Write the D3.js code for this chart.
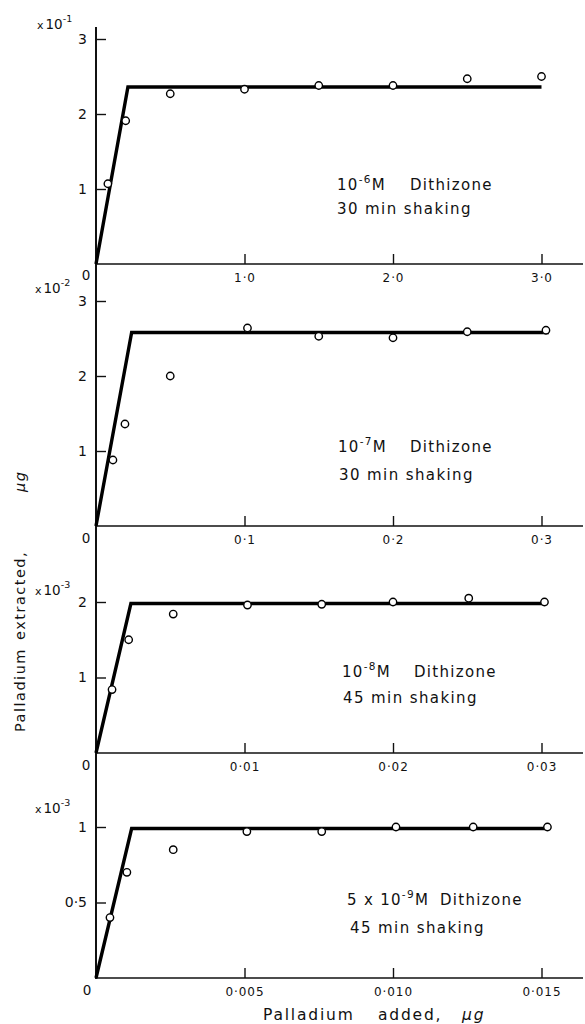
<!DOCTYPE html>
<html>
<head>
<meta charset="utf-8">
<script src="https://cdn.jsdelivr.net/npm/d3@7"></script>
<style>
  html, body { margin: 0; padding: 0; background: #fff; }
  svg { display: block; }
  text { font-family: "DejaVu Sans", sans-serif; fill: #111; }
</style>
</head>
<body>
<svg id="chart" width="585" height="1024"></svg>
<script>
// Palladium extracted vs. palladium added, four dithizone concentrations

// Panel 1: 10^-6 M dithizone, 30 min shaking (y in units of 10^-1 µg)
const added1 = [0.08, 0.2, 0.5, 1.0, 1.5, 2.0, 2.5, 3.0];
const extracted1 = [1.07, 1.91, 2.27, 2.33, 2.38, 2.38, 2.47, 2.5];
const fitX1 = [0, 0.215, 3.0];
const fitY1 = [0, 2.36, 2.36];
const xTicks1 = [1.0, 2.0, 3.0];
const xTickLabels1 = ["1·0", "2·0", "3·0"];
const yTicks1 = [1, 2, 3];
const yTickLabels1 = ["1", "2", "3"];

// Panel 2: 10^-7 M dithizone, 30 min shaking (y in units of 10^-2 µg)
const added2 = [0.0114, 0.0195, 0.05, 0.102, 0.15, 0.2, 0.25, 0.303];
const extracted2 = [0.88, 1.36, 2.0, 2.64, 2.53, 2.51, 2.59, 2.61];
const fitX2 = [0, 0.024, 0.305];
const fitY2 = [0, 2.58, 2.58];
const xTicks2 = [0.1, 0.2, 0.3];
const xTickLabels2 = ["0·1", "0·2", "0·3"];
const yTicks2 = [1, 2, 3];
const yTickLabels2 = ["1", "2", "3"];

// Panel 3: 10^-8 M dithizone, 45 min shaking (y in units of 10^-3 µg)
const added3 = [0.00108, 0.0022, 0.0052, 0.0102, 0.0152, 0.02, 0.0251, 0.0302];
const extracted3 = [0.84, 1.5, 1.84, 1.96, 1.97, 2.0, 2.05, 2.0];
const fitX3 = [0, 0.00235, 0.0304];
const fitY3 = [0, 1.98, 1.98];
const xTicks3 = [0.01, 0.02, 0.03];
const xTickLabels3 = ["0·01", "0·02", "0·03"];
const yTicks3 = [1, 2];
const yTickLabels3 = ["1", "2"];

// Panel 4: 5x10^-9 M dithizone, 45 min shaking (y in units of 10^-3 µg)
const added4 = [0.00047, 0.00104, 0.0026, 0.00508, 0.0076, 0.0101, 0.0127, 0.0152];
const extracted4 = [0.40, 0.70, 0.85, 0.97, 0.97, 1.0, 1.0, 1.0];
const fitX4 = [0, 0.0012, 0.0153];
const fitY4 = [0, 0.99, 0.99];
const xTicks4 = [0.005, 0.010, 0.015];
const xTickLabels4 = ["0·005", "0·010", "0·015"];
const yTicks4 = [0.5, 1];
const yTickLabels4 = ["0·5", "1"];

const exponents = ["-1", "-2", "-3", "-3"];
const conditionPrefix = ["", "", "", "5 x "];
const conditionExp = ["-6", "-7", "-8", "-9"];
const shakingLabels = ["30 min shaking", "30 min shaking", "45 min shaking", "45 min shaking"];

// Layout of the four stacked panels (pixel geometry only)
const xLeft = 96, xRight = 541.5, axisEnd = 583;
const layout = [
  { x: [0, 3.0],   y: [0, 3], y0: 264, yTop: 39,  exp: [37, 29],  note: [337, 190, 337, 214, 410], zero: [86, 280] },
  { x: [0, 0.3],   y: [0, 3], y0: 526, yTop: 301, exp: [35, 293], note: [338, 452, 339, 480, 410], zero: [86, 543] },
  { x: [0, 0.03],  y: [0, 2], y0: 753, yTop: 602, exp: [35, 595], note: [342, 677, 343, 703, 414], zero: [86, 770] },
  { x: [0, 0.015], y: [0, 1], y0: 978, yTop: 827, exp: [35, 813], note: [347, 905, 350, 933, 440], zero: [87, 995] }
];

const panels = [
  { added: added1, extracted: extracted1, fitX: fitX1, fitY: fitY1, xt: xTicks1, xl: xTickLabels1, yt: yTicks1, yl: yTickLabels1 },
  { added: added2, extracted: extracted2, fitX: fitX2, fitY: fitY2, xt: xTicks2, xl: xTickLabels2, yt: yTicks2, yl: yTickLabels2 },
  { added: added3, extracted: extracted3, fitX: fitX3, fitY: fitY3, xt: xTicks3, xl: xTickLabels3, yt: yTicks3, yl: yTickLabels3 },
  { added: added4, extracted: extracted4, fitX: fitX4, fitY: fitY4, xt: xTicks4, xl: xTickLabels4, yt: yTicks4, yl: yTickLabels4 }
];

const svg = d3.select("#chart");

// Shared vertical axis line running through all panels
svg.append("line")
  .attr("x1", xLeft).attr("x2", xLeft)
  .attr("y1", 27).attr("y2", 979)
  .attr("stroke", "#111").attr("stroke-width", 2);

panels.forEach((p, i) => {
  const L = layout[i];
  const x = d3.scaleLinear().domain(L.x).range([xLeft, xRight]);
  const y = d3.scaleLinear().domain(L.y).range([L.y0, L.yTop]);
  const g = svg.append("g");

  // x axis: baseline, ticks pointing up, labels below
  const xAxis = d3.axisBottom(x).tickValues(p.xt).tickSize(-10).tickPadding(7)
    .tickFormat((d, k) => p.xl[k]);
  const gx = g.append("g").attr("transform", `translate(0,${L.y0})`).call(xAxis);
  gx.select(".domain").remove();
  gx.selectAll(".tick line").attr("stroke", "#111").attr("stroke-width", 1.4);
  gx.selectAll(".tick text").attr("font-size", 12).attr("letter-spacing", 0.9)
    .attr("font-family", "DejaVu Sans").attr("fill", "#222").attr("dy", "0.9em");
  g.append("line")
    .attr("x1", xLeft).attr("x2", axisEnd)
    .attr("y1", L.y0).attr("y2", L.y0)
    .attr("stroke", "#111").attr("stroke-width", 1.6);

  // y axis ticks pointing right, labels to the left
  const yAxis = d3.axisLeft(y).tickValues(p.yt).tickSize(-10).tickPadding(9)
    .tickFormat((d, k) => p.yl[k]);
  const gy = g.append("g").attr("transform", `translate(${xLeft},0)`).call(yAxis);
  gy.select(".domain").remove();
  gy.selectAll(".tick line").attr("stroke", "#111").attr("stroke-width", 1.4);
  gy.selectAll(".tick text").attr("font-size", 14).attr("font-family", "DejaVu Sans").attr("fill", "#222");

  // "0" at the origin
  g.append("text").attr("x", L.zero[0]).attr("y", L.zero[1])
    .attr("text-anchor", "middle").attr("font-size", 13.5).text("0");

  // scale multiplier "x 10^n"
  const ex = g.append("text").attr("x", L.exp[0]).attr("y", L.exp[1]).attr("font-size", 13.5);
  ex.append("tspan").attr("font-size", 11).text("x");
  ex.append("tspan").attr("dx", 2).text("10");
  ex.append("tspan").attr("dy", -7).attr("font-size", 9.5).text(exponents[i]);

  // fitted line
  const fit = d3.zip(p.fitX, p.fitY);
  g.append("path")
    .attr("d", d3.line().x(d => x(d[0])).y(d => y(d[1]))(fit))
    .attr("fill", "none").attr("stroke", "#000")
    .attr("stroke-width", 3.4).attr("stroke-linejoin", "miter");

  // measured points, open circles
  g.selectAll("circle").data(d3.zip(p.added, p.extracted)).join("circle")
    .attr("cx", d => x(d[0])).attr("cy", d => y(d[1])).attr("r", 3.7)
    .attr("fill", "#fff").attr("stroke", "#000").attr("stroke-width", 1.4);

  // condition annotation
  const n1 = g.append("text").attr("x", L.note[0]).attr("y", L.note[1])
    .attr("font-size", 15).attr("letter-spacing", 1.3);
  n1.append("tspan").text(conditionPrefix[i] + "10");
  n1.append("tspan").attr("dy", -7).attr("font-size", 10.5).text(conditionExp[i]);
  n1.append("tspan").attr("dy", 7).text("M");
  n1.append("tspan").attr("x", L.note[4]).text("Dithizone");
  g.append("text").attr("x", L.note[2]).attr("y", L.note[3])
    .attr("font-size", 15).attr("letter-spacing", 1.4).text(shakingLabels[i]);
});

// axis titles
const xt = svg.append("text").attr("y", 1020)
  .attr("font-size", 15.5).attr("letter-spacing", 1.8);
xt.append("tspan").attr("x", 263).text("Palladium");
xt.append("tspan").attr("x", 378).text("added,");
xt.append("tspan").attr("x", 462).attr("font-style", "italic").text("μg");

const yt = svg.append("text")
  .attr("transform", "translate(25,732) rotate(-90)")
  .attr("font-size", 14.5).attr("letter-spacing", 1.5);
yt.append("tspan").attr("x", 0).text("Palladium");
yt.append("tspan").attr("x", 92).text("extracted,");
yt.append("tspan").attr("x", 240).attr("font-style", "italic").text("μg");
</script>
</body>
</html>
